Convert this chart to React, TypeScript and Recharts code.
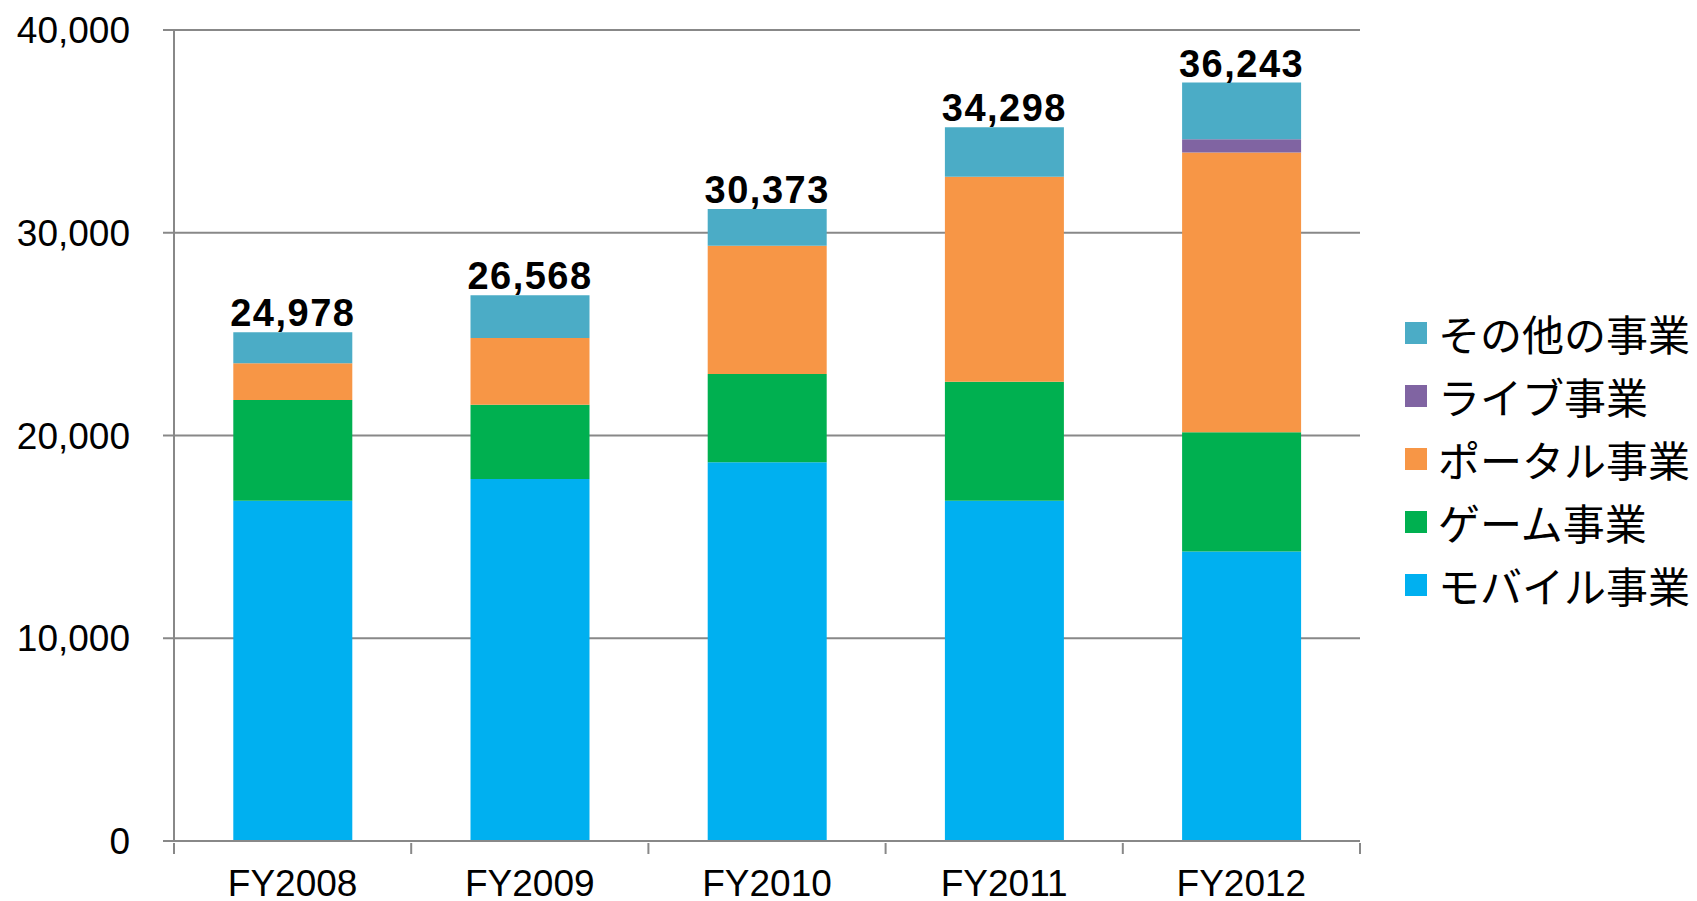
import React from 'react';
import { BarChart, Bar, XAxis, YAxis, CartesianGrid, LabelList, Legend } from 'recharts';

const YEARS = ['FY2008', 'FY2009', 'FY2010', 'FY2011', 'FY2012'];
const MOBILE = [16784, 17855, 18678, 16784, 14284];
const GAME = [4967, 3664, 4355, 5870, 5879];
const PORTAL = [1810, 3290, 6329, 10111, 13795];
const LIVE = [0, 0, 0, 0, 656];
const OTHER = [1529, 2106, 1810, 2436, 2792];
const TOTALS = [24978, 26568, 30373, 34298, 36243];
const Y_TICKS = [0, 10000, 20000, 30000, 40000];

// stack order, bottom to top
const SERIES = [
  { key: 'mobile', name: 'モバイル事業', color: '#00B0F0' },
  { key: 'game', name: 'ゲーム事業', color: '#00B050' },
  { key: 'portal', name: 'ポータル事業', color: '#F79646' },
  { key: 'live', name: 'ライブ事業', color: '#8064A2' },
  { key: 'other', name: 'その他の事業', color: '#4BACC6' },
];

const data = YEARS.map((year, i) => ({
  year,
  mobile: MOBILE[i],
  game: GAME[i],
  portal: PORTAL[i],
  live: LIVE[i],
  other: OTHER[i],
  total: TOTALS[i],
}));

const W = 1697;
const H = 901;
const PLOT_LEFT = 174;
const PLOT_RIGHT = 1360;
const AXIS = '#888888';
const LATIN = '"Liberation Sans", Arial, sans-serif';
const CJK = '"Noto Sans CJK JP", "Noto Sans", sans-serif';

const fmt = (v: number) => v.toLocaleString('en-US');

const XTick = (props: any) => {
  const { x, y, payload, index } = props;
  const half = (PLOT_RIGHT - PLOT_LEFT) / YEARS.length / 2;
  return (
    <g>
      <line x1={x - half} x2={x - half} y1={y} y2={y + 11} stroke={AXIS} strokeWidth={2} />
      {index === YEARS.length - 1 && (
        <line x1={x + half} x2={x + half} y1={y} y2={y + 11} stroke={AXIS} strokeWidth={2} />
      )}
      <text x={x} y={y + 53} textAnchor="middle" fill="#000" fontSize={37} fontFamily={LATIN}>
        {payload.value}
      </text>
    </g>
  );
};

const renderTotal = (props: any) => {
  const { x, y, width, value } = props;
  return (
    <text
      x={x + width / 2}
      y={y - 6}
      textAnchor="middle"
      fill="#000"
      fontSize={38}
      fontWeight="bold"
      letterSpacing={1.5}
      fontFamily={LATIN}
    >
      {fmt(value)}
    </text>
  );
};

const renderLegend = () => (
  <div style={{ fontFamily: CJK }}>
    {[...SERIES].reverse().map((s) => (
      <div key={s.key} style={{ display: 'flex', alignItems: 'center', height: 63 }}>
        <div style={{ width: 22, height: 22, background: s.color, marginLeft: 10, marginRight: 11 }} />
        <span style={{ fontSize: 42, lineHeight: '63px', color: '#000', whiteSpace: 'nowrap' }}>{s.name}</span>
      </div>
    ))}
  </div>
);

export default function App() {
  return (
    <div style={{ position: 'absolute', left: 0, top: 0, width: W, height: H, background: '#fff', overflow: 'hidden' }}>
      <BarChart
        width={W}
        height={H}
        data={data}
        margin={{ top: 30, right: W - PLOT_RIGHT, bottom: 0, left: 0 }}
        barCategoryGap="25%"
      >
        <CartesianGrid vertical={false} stroke={AXIS} strokeWidth={2} />
        <XAxis
          dataKey="year"
          height={60}
          interval={0}
          tickSize={0}
          tickLine={false}
          axisLine={{ stroke: AXIS, strokeWidth: 2 }}
          tick={<XTick />}
        />
        <YAxis
          width={PLOT_LEFT}
          domain={[0, 40000]}
          ticks={Y_TICKS}
          interval={0}
          tickFormatter={fmt}
          tickSize={11}
          tickMargin={33}
          axisLine={{ stroke: AXIS, strokeWidth: 2 }}
          tickLine={{ stroke: AXIS, strokeWidth: 2 }}
          tick={{ fill: '#000', fontSize: 37, fontFamily: LATIN }}
        />
        {SERIES.map((s) => (
          <Bar key={s.key} dataKey={s.key} name={s.name} stackId="a" fill={s.color} isAnimationActive={false}>
            {s.key === 'other' && <LabelList dataKey="total" content={renderTotal} />}
          </Bar>
        ))}
        <Legend
          layout="vertical"
          align="center"
          verticalAlign="middle"
          content={renderLegend}
          wrapperStyle={{ left: 1395, top: 301, width: 302 }}
        />
      </BarChart>
    </div>
  );
}
